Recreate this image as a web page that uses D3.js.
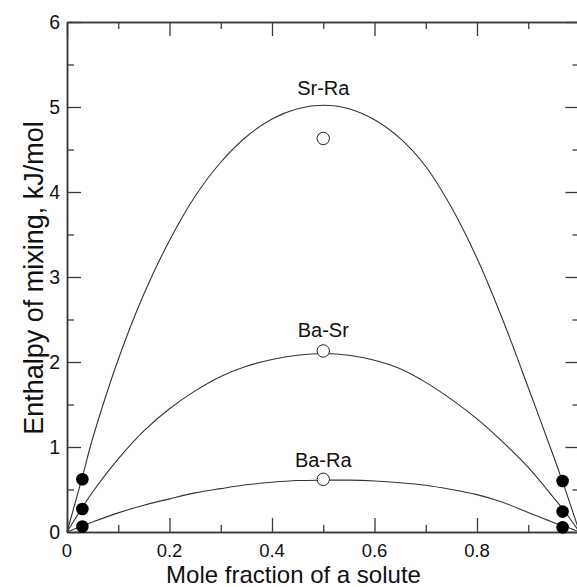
<!DOCTYPE html>
<html>
<head>
<meta charset="utf-8">
<script src="https://cdn.jsdelivr.net/npm/d3@7"></script>
<style>
  html, body { margin: 0; padding: 0; background: #fff; }
  svg { display: block; }
  text { font-family: "Liberation Sans", Arial, Helvetica, sans-serif; fill: #111; }
</style>
</head>
<body>
<svg id="chart" width="577" height="587"></svg>
<script>
// ---- data ----
const xGrid  = [0, 0.03, 0.05, 0.1, 0.15, 0.2, 0.25, 0.3, 0.35, 0.4, 0.45, 0.5, 0.55, 0.6, 0.65, 0.7, 0.75, 0.8, 0.85, 0.9, 0.95, 0.97, 1];
const srRa   = [0, 0.65, 1.10, 2.03, 2.80, 3.43, 3.95, 4.35, 4.65, 4.86, 4.98, 5.02, 4.98, 4.85, 4.63, 4.30, 3.82, 3.22, 2.50, 1.70, 0.88, 0.54, 0];
const baSr   = [0, 0.29, 0.47, 0.86, 1.19, 1.45, 1.66, 1.83, 1.95, 2.03, 2.08, 2.10, 2.08, 2.02, 1.92, 1.76, 1.56, 1.33, 1.06, 0.76, 0.40, 0.25, 0];
const baRa   = [0, 0.072, 0.118, 0.225, 0.315, 0.39, 0.46, 0.51, 0.555, 0.585, 0.605, 0.61, 0.61, 0.60, 0.58, 0.55, 0.50, 0.44, 0.35, 0.23, 0.11, 0.07, 0];
const seriesNames = ["Sr-Ra", "Ba-Sr", "Ba-Ra"];

const filledX = [0.03, 0.03, 0.03, 0.967, 0.967, 0.967];
const filledY = [0.62, 0.27, 0.065, 0.60, 0.24, 0.055];
const openX   = [0.5, 0.5, 0.5];
const openY   = [4.63, 2.13, 0.62];

const xTicks = [0, 0.2, 0.4, 0.6, 0.8, 1.0];
const xTickLabels = ["0", "0.2", "0.4", "0.6", "0.8", ""];
const xMinor = [0.1, 0.3, 0.5, 0.7, 0.9];
const yTicks = [0, 1, 2, 3, 4, 5, 6];
const yTickLabels = ["0", "1", "2", "3", "4", "5", "6"];
const yMinor = [0.5, 1.5, 2.5, 3.5, 4.5, 5.5];

// ---- layout ----
const mLeft = 67, mTop = 22, mRight = 579.5, mBottom = 532;
const svg = d3.select("#chart");
const x = d3.scaleLinear().domain([0, 1]).range([mLeft, mRight]);
const y = d3.scaleLinear().domain([0, 6]).range([mBottom, mTop]);
const axisColor = "#3a3a3a";
const majorLen = 14, minorLen = 7;

// curves
const allSeries = [srRa, baSr, baRa];
const line = d3.line()
  .x((d, i) => x(xGrid[i]))
  .y(d => y(d))
  .curve(d3.curveCatmullRom.alpha(0.5));
svg.append("g").selectAll("path").data(allSeries).join("path")
  .attr("d", d => line(d))
  .attr("fill", "none")
  .attr("stroke", "#333")
  .attr("stroke-width", 1.1);

// axes (ticks inside on all four sides)
function addAxis(axisGen, transform, values, len) {
  const g = svg.append("g").attr("transform", transform)
    .call(axisGen.tickValues(values).tickSizeInner(len).tickSizeOuter(0)
      .tickFormat(() => ""));
  g.select(".domain").attr("stroke", axisColor).attr("stroke-width", 1.5);
  g.selectAll(".tick line").attr("stroke", axisColor).attr("stroke-width", 1.3);
  return g;
}
addAxis(d3.axisTop(x), `translate(0,${mBottom})`, xTicks, majorLen);
addAxis(d3.axisTop(x), `translate(0,${mBottom})`, xMinor, minorLen);
addAxis(d3.axisBottom(x), `translate(0,${mTop})`, xTicks, majorLen);
addAxis(d3.axisBottom(x), `translate(0,${mTop})`, xMinor, minorLen);
addAxis(d3.axisRight(y), `translate(${mLeft},0)`, yTicks, majorLen);
addAxis(d3.axisRight(y), `translate(${mLeft},0)`, yMinor, minorLen);
addAxis(d3.axisLeft(y), `translate(${mRight},0)`, yTicks, majorLen);
addAxis(d3.axisLeft(y), `translate(${mRight},0)`, yMinor, minorLen);

// tick labels
svg.append("g").selectAll("text").data(xTicks).join("text")
  .attr("x", d => x(d)).attr("y", mBottom + 25)
  .attr("text-anchor", "middle").attr("font-size", 18.5)
  .text((d, i) => xTickLabels[i]);
svg.append("g").selectAll("text").data(yTicks).join("text")
  .attr("x", mLeft - 7).attr("y", d => y(d)).attr("dy", "0.36em")
  .attr("text-anchor", "end").attr("font-size", 19.5)
  .text((d, i) => yTickLabels[i]);

// axis titles
svg.append("text").attr("x", 293.5).attr("y", 583)
  .attr("text-anchor", "middle").attr("font-size", 24)
  .text("Mole fraction of a solute");
svg.append("text")
  .attr("transform", `translate(43,${(mTop + mBottom) / 2 + 1}) rotate(-90)`)
  .attr("text-anchor", "middle").attr("font-size", 27)
  .text("Enthalpy of mixing, kJ/mol");

// markers
svg.append("g").selectAll("circle").data(filledY).join("circle")
  .attr("cx", (d, i) => x(filledX[i])).attr("cy", d => y(d)).attr("r", 6.3)
  .attr("fill", "#000");
svg.append("g").selectAll("circle").data(openY).join("circle")
  .attr("cx", (d, i) => x(openX[i])).attr("cy", d => y(d)).attr("r", 6.2)
  .attr("fill", "#fff").attr("stroke", "#222").attr("stroke-width", 1);

// series labels
const peaks = allSeries.map(s => d3.max(s));
const labelOffsets = [10, 17, 13];
svg.append("g").selectAll("text").data(seriesNames).join("text")
  .attr("x", x(0.5)).attr("y", (d, i) => y(peaks[i]) - labelOffsets[i])
  .attr("text-anchor", "middle").attr("font-size", 20)
  .text(d => d);
</script>
</body>
</html>
